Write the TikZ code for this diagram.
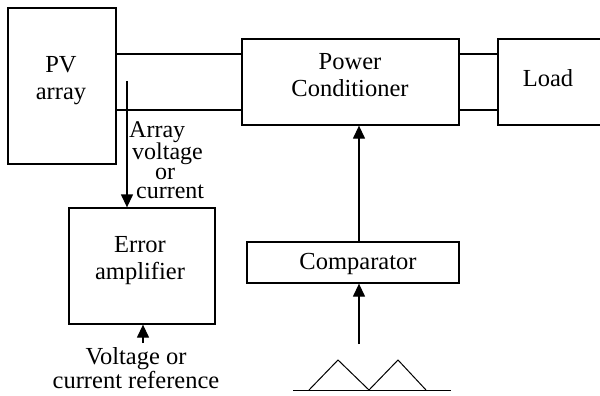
\documentclass[tikz,border=0pt]{standalone}
\usepackage{fontspec}
\setmainfont{Liberation Serif}
\usetikzlibrary{arrows.meta}
\begin{document}
\begin{tikzpicture}[x=1pt,y=-1pt,
  box/.style={draw,line width=1.3pt,inner sep=0pt},
  txt/.style={inner sep=0pt,align=center,font=\fontsize{24.5}{27}\selectfont},
  tighttxt/.style={inner sep=0pt,align=center,font=\fontsize{24.5}{19}\selectfont},
  stacktxt/.style={inner sep=0pt,align=left,font=\fontsize{24}{19.5}\selectfont},
  wire/.style={line width=1.3pt},
  arr/.style={line width=1.3pt,-{Triangle[length=13pt,width=12pt]}}]
\useasboundingbox (0,0) rectangle (600,396);
% boxes
\node[box,minimum width=108pt,minimum height=156pt] (pv) at (62,86) {};
\node[box,minimum width=217pt,minimum height=86pt] (pc) at (350.5,82) {};
\node[box,minimum width=110pt,minimum height=86pt] (load) at (553,82) {};
\node[box,minimum width=146pt,minimum height=116pt] (ea) at (142,266) {};
\node[box,minimum width=212pt,minimum height=41pt] (cmp) at (353,262.5) {};
% texts
\node[txt] (pvt) at (61,80.5) {PV\\array};
\node[txt] (pct) at (350,75) {Power\\Conditioner};
\node[txt,anchor=base] (loadt) at (548,86) {Load};
\node[txt] (eat) at (140,261) {Error\\amplifier};
\node[txt,anchor=base] (cmpt) at (358,269) {Comparator};
\node[tighttxt] (reft) at (136,368) {Voltage or\\current reference};
\node[stacktxt,anchor=north west] (avt) at (129,121)
  {Array\\\hspace*{3pt}voltage\\\hspace*{26pt}or\\\hspace*{7pt}current};
% wires
\draw[wire] (pv.east |- 0,54) -- (pc.west |- 0,54);
\draw[wire] (pv.east |- 0,110) -- (pc.west |- 0,110);
\draw[wire] (pc.east |- 0,54) -- (load.west |- 0,54);
\draw[wire] (pc.east |- 0,110) -- (load.west |- 0,110);
% arrows
\coordinate (tap) at (127,81);
\draw[arr] (tap) -- (tap |- ea.north);
\coordinate (refpt) at (143,343);
\draw[arr] (refpt) -- (refpt |- ea.south);
\coordinate (tri) at (359,344);
\draw[arr] (tri) -- (tri |- cmp.south);
\draw[arr] (tri |- cmp.north) -- (tri |- pc.south);
% triangle wave
\draw[line width=1pt] (293,390) -- (451,390);
\draw[line width=1pt] (309,390) -- (338,360) -- (369,390) -- (398,360) -- (426,390);
\end{tikzpicture}
\end{document}
